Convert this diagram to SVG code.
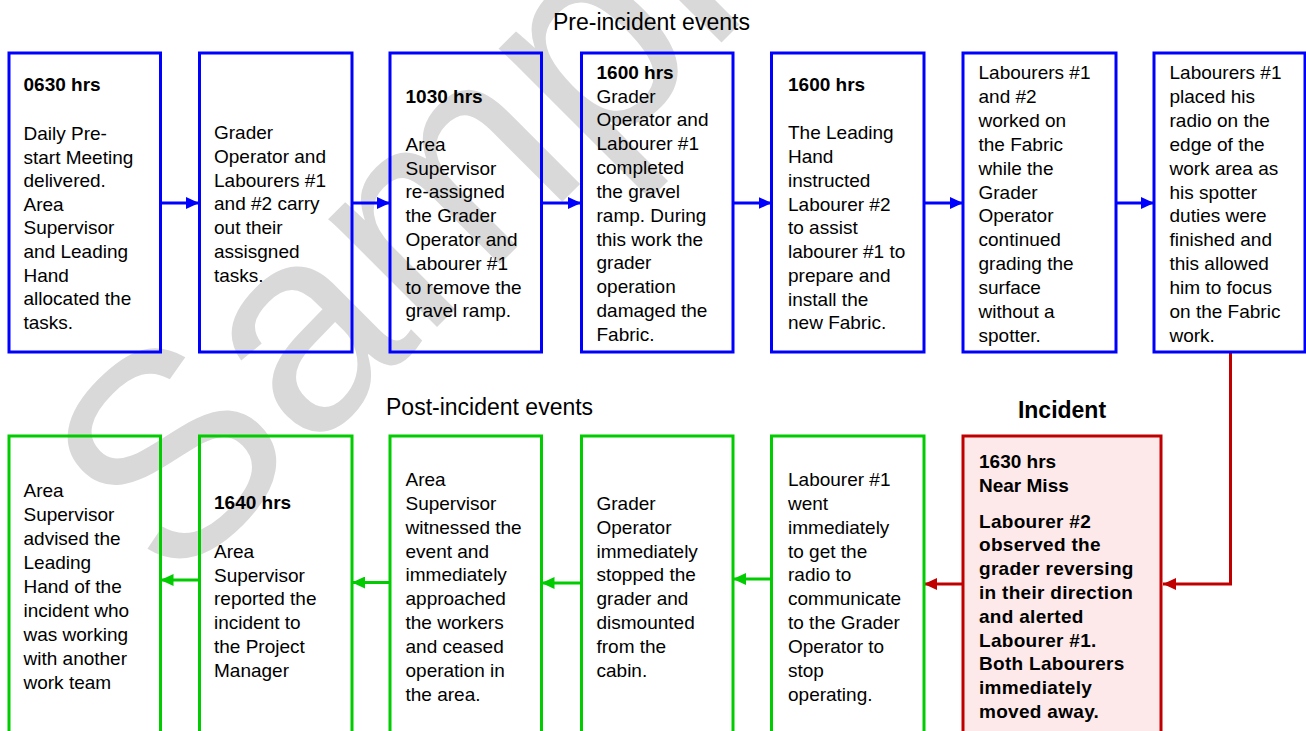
<svg xmlns="http://www.w3.org/2000/svg" width="1306" height="731" viewBox="0 0 1306 731">
<defs>
<style>
.t{font-family:"Liberation Sans",Arial,sans-serif;font-size:19px;fill:#000}
.b{font-weight:bold}
.ib{font-weight:bold;letter-spacing:0.3px}
.h{font-family:"Liberation Sans",Arial,sans-serif;font-size:23px;fill:#000}
.pre{fill:none;stroke:#0000FF;stroke-width:3}
.post{fill:none;stroke:#00CC00;stroke-width:3}
.inc{fill:#FDE9E9;stroke:#C00000;stroke-width:3}
.cb{stroke:#0000FF;stroke-width:3;fill:none}
.cg{stroke:#00CC00;stroke-width:3;fill:none}
.cr{stroke:#C00000;stroke-width:3;fill:none}
.wm{font-family:"Liberation Sans",Arial,sans-serif;font-size:290px;fill:#D9D9D9}
</style>
<marker id="ab" markerUnits="userSpaceOnUse" markerWidth="14" markerHeight="12" refX="13" refY="6" orient="auto"><path d="M0,0 L13,6 L0,12 z" fill="#0000FF"/></marker>
<marker id="ag" markerUnits="userSpaceOnUse" markerWidth="14" markerHeight="12" refX="13" refY="6" orient="auto"><path d="M0,0 L13,6 L0,12 z" fill="#00CC00"/></marker>
<marker id="ar" markerUnits="userSpaceOnUse" markerWidth="14" markerHeight="12" refX="13" refY="6" orient="auto"><path d="M0,0 L13,6 L0,12 z" fill="#C00000"/></marker>
</defs>
<rect x="0" y="0" width="1306" height="731" fill="#FFFFFF"/>
<text class="wm" transform="translate(172,592) rotate(-45)">Sample</text>

<text class="h" x="553" y="30">Pre-incident events</text>
<text class="h" x="386" y="415">Post-incident events</text>
<text class="h b" x="1062" y="418" text-anchor="middle">Incident</text>

<g id="connectors">
<line class="cb" x1="160.5" y1="203" x2="199" y2="203" marker-end="url(#ab)"/>
<line class="cb" x1="352" y1="203" x2="390" y2="203" marker-end="url(#ab)"/>
<line class="cb" x1="541.5" y1="203" x2="581" y2="203" marker-end="url(#ab)"/>
<line class="cb" x1="733" y1="203" x2="771.5" y2="203" marker-end="url(#ab)"/>
<line class="cb" x1="924" y1="203" x2="963" y2="203" marker-end="url(#ab)"/>
<line class="cb" x1="1116" y1="203" x2="1154" y2="203" marker-end="url(#ab)"/>
<polyline class="cr" points="1230.5,352 1230.5,584 1163,584" marker-end="url(#ar)"/>
<line class="cr" x1="963" y1="584" x2="924" y2="584" marker-end="url(#ar)"/>
<line class="cg" x1="771.5" y1="579" x2="733" y2="579" marker-end="url(#ag)"/>
<line class="cg" x1="581.5" y1="583" x2="541.5" y2="583" marker-end="url(#ag)"/>
<line class="cg" x1="390" y1="582.5" x2="352" y2="582.5" marker-end="url(#ag)"/>
<line class="cg" x1="199.5" y1="580" x2="160.5" y2="580" marker-end="url(#ag)"/>
</g>

<g id="n1">
<rect class="pre" x="9" y="53" width="151.5" height="299"/>
<text class="t b" x="23.5" y="91">0630 hrs</text>
<text class="t" x="23.5" y="140"><tspan x="23.5">Daily Pre-</tspan><tspan x="23.5" dy="23.6">start Meeting</tspan><tspan x="23.5" dy="23.6">delivered.</tspan><tspan x="23.5" dy="23.6">Area</tspan><tspan x="23.5" dy="23.6">Supervisor</tspan><tspan x="23.5" dy="23.6">and Leading</tspan><tspan x="23.5" dy="23.6">Hand</tspan><tspan x="23.5" dy="23.6">allocated the</tspan><tspan x="23.5" dy="23.6">tasks.</tspan></text>
</g>
<g id="n2">
<rect class="pre" x="199.5" y="53" width="152.5" height="299"/>
<text class="t" x="214" y="139.3"><tspan x="214">Grader</tspan><tspan x="214" dy="23.7">Operator and</tspan><tspan x="214" dy="23.7">Labourers #1</tspan><tspan x="214" dy="23.7">and #2 carry</tspan><tspan x="214" dy="23.7">out their</tspan><tspan x="214" dy="23.7">assisgned</tspan><tspan x="214" dy="23.7">tasks.</tspan></text>
</g>
<g id="n3">
<rect class="pre" x="390" y="53" width="151.5" height="299"/>
<text class="t b" x="405.5" y="102.7">1030 hrs</text>
<text class="t" x="405.5" y="150.7"><tspan x="405.5">Area</tspan><tspan x="405.5" dy="23.8">Supervisor</tspan><tspan x="405.5" dy="23.8">re-assigned</tspan><tspan x="405.5" dy="23.8">the Grader</tspan><tspan x="405.5" dy="23.8">Operator and</tspan><tspan x="405.5" dy="23.8">Labourer #1</tspan><tspan x="405.5" dy="23.8">to remove the</tspan><tspan x="405.5" dy="23.8">gravel ramp.</tspan></text>
</g>
<g id="n4">
<rect class="pre" x="581.5" y="53" width="151.5" height="299"/>
<text class="t b" x="596.5" y="78.5">1600 hrs</text>
<text class="t" x="596.5" y="102.5"><tspan x="596.5">Grader</tspan><tspan x="596.5" dy="23.85">Operator and</tspan><tspan x="596.5" dy="23.85">Labourer #1</tspan><tspan x="596.5" dy="23.85">completed</tspan><tspan x="596.5" dy="23.85">the gravel</tspan><tspan x="596.5" dy="23.85">ramp. During</tspan><tspan x="596.5" dy="23.85">this work the</tspan><tspan x="596.5" dy="23.85">grader</tspan><tspan x="596.5" dy="23.85">operation</tspan><tspan x="596.5" dy="23.85">damaged the</tspan><tspan x="596.5" dy="23.85">Fabric.</tspan></text>
</g>
<g id="n5">
<rect class="pre" x="771.5" y="53" width="152.5" height="299"/>
<text class="t b" x="788" y="90.7">1600 hrs</text>
<text class="t" x="788" y="139.3"><tspan x="788">The Leading</tspan><tspan x="788" dy="23.75">Hand</tspan><tspan x="788" dy="23.75">instructed</tspan><tspan x="788" dy="23.75">Labourer #2</tspan><tspan x="788" dy="23.75">to assist</tspan><tspan x="788" dy="23.75">labourer #1 to</tspan><tspan x="788" dy="23.75">prepare and</tspan><tspan x="788" dy="23.75">install the</tspan><tspan x="788" dy="23.75">new Fabric.</tspan></text>
</g>
<g id="n6">
<rect class="pre" x="963" y="53" width="153" height="299"/>
<text class="t" x="978.5" y="79"><tspan x="978.5">Labourers #1</tspan><tspan x="978.5" dy="23.9">and #2</tspan><tspan x="978.5" dy="23.9">worked on</tspan><tspan x="978.5" dy="23.9">the Fabric</tspan><tspan x="978.5" dy="23.9">while the</tspan><tspan x="978.5" dy="23.9">Grader</tspan><tspan x="978.5" dy="23.9">Operator</tspan><tspan x="978.5" dy="23.9">continued</tspan><tspan x="978.5" dy="23.9">grading the</tspan><tspan x="978.5" dy="23.9">surface</tspan><tspan x="978.5" dy="23.9">without a</tspan><tspan x="978.5" dy="23.9">spotter.</tspan></text>
</g>
<g id="n7">
<rect class="pre" x="1154" y="53" width="151" height="299"/>
<text class="t" x="1169.5" y="79"><tspan x="1169.5">Labourers #1</tspan><tspan x="1169.5" dy="23.9">placed his</tspan><tspan x="1169.5" dy="23.9">radio on the</tspan><tspan x="1169.5" dy="23.9">edge of the</tspan><tspan x="1169.5" dy="23.9">work area as</tspan><tspan x="1169.5" dy="23.9">his spotter</tspan><tspan x="1169.5" dy="23.9">duties were</tspan><tspan x="1169.5" dy="23.9">finished and</tspan><tspan x="1169.5" dy="23.9">this allowed</tspan><tspan x="1169.5" dy="23.9">him to focus</tspan><tspan x="1169.5" dy="23.9">on the Fabric</tspan><tspan x="1169.5" dy="23.9">work.</tspan></text>
</g>

<g id="incident">
<rect class="inc" x="963" y="436" width="198" height="310"/>
<text class="t b" x="979" y="467.7">1630 hrs</text>
<text class="t b" x="979" y="491.5">Near Miss</text>
<text class="t ib" x="979" y="527.5"><tspan x="979">Labourer #2</tspan><tspan x="979" dy="23.8">observed the</tspan><tspan x="979" dy="23.8">grader reversing</tspan><tspan x="979" dy="23.8">in their direction</tspan><tspan x="979" dy="23.8">and alerted</tspan><tspan x="979" dy="23.8">Labourer #1.</tspan><tspan x="979" dy="23.8">Both Labourers</tspan><tspan x="979" dy="23.8">immediately</tspan><tspan x="979" dy="23.8">moved away.</tspan></text>
</g>
<g id="nE">
<rect class="post" x="771.5" y="436" width="152.5" height="310"/>
<text class="t" x="788" y="486"><tspan x="788">Labourer #1</tspan><tspan x="788" dy="23.85">went</tspan><tspan x="788" dy="23.85">immediately</tspan><tspan x="788" dy="23.85">to get the</tspan><tspan x="788" dy="23.85">radio to</tspan><tspan x="788" dy="23.85">communicate</tspan><tspan x="788" dy="23.85">to the Grader</tspan><tspan x="788" dy="23.85">Operator to</tspan><tspan x="788" dy="23.85">stop</tspan><tspan x="788" dy="23.85">operating.</tspan></text>
</g>
<g id="nD">
<rect class="post" x="581.5" y="436" width="151.5" height="310"/>
<text class="t" x="596.5" y="510"><tspan x="596.5">Grader</tspan><tspan x="596.5" dy="23.8">Operator</tspan><tspan x="596.5" dy="23.8">immediately</tspan><tspan x="596.5" dy="23.8">stopped the</tspan><tspan x="596.5" dy="23.8">grader and</tspan><tspan x="596.5" dy="23.8">dismounted</tspan><tspan x="596.5" dy="23.8">from the</tspan><tspan x="596.5" dy="23.8">cabin.</tspan></text>
</g>
<g id="nC">
<rect class="post" x="390" y="436" width="151.5" height="310"/>
<text class="t" x="405.5" y="486"><tspan x="405.5">Area</tspan><tspan x="405.5" dy="23.85">Supervisor</tspan><tspan x="405.5" dy="23.85">witnessed the</tspan><tspan x="405.5" dy="23.85">event and</tspan><tspan x="405.5" dy="23.85">immediately</tspan><tspan x="405.5" dy="23.85">approached</tspan><tspan x="405.5" dy="23.85">the workers</tspan><tspan x="405.5" dy="23.85">and ceased</tspan><tspan x="405.5" dy="23.85">operation in</tspan><tspan x="405.5" dy="23.85">the area.</tspan></text>
</g>
<g id="nB">
<rect class="post" x="199.5" y="436" width="152.5" height="310"/>
<text class="t b" x="214" y="509.3">1640 hrs</text>
<text class="t" x="214" y="558"><tspan x="214">Area</tspan><tspan x="214" dy="23.7">Supervisor</tspan><tspan x="214" dy="23.7">reported the</tspan><tspan x="214" dy="23.7">incident to</tspan><tspan x="214" dy="23.7">the Project</tspan><tspan x="214" dy="23.7">Manager</tspan></text>
</g>
<g id="nA">
<rect class="post" x="9" y="436" width="151.5" height="310"/>
<text class="t" x="23.5" y="497.3"><tspan x="23.5">Area</tspan><tspan x="23.5" dy="24">Supervisor</tspan><tspan x="23.5" dy="24">advised the</tspan><tspan x="23.5" dy="24">Leading</tspan><tspan x="23.5" dy="24">Hand of the</tspan><tspan x="23.5" dy="24">incident who</tspan><tspan x="23.5" dy="24">was working</tspan><tspan x="23.5" dy="24">with another</tspan><tspan x="23.5" dy="24">work team</tspan></text>
</g>
</svg>
